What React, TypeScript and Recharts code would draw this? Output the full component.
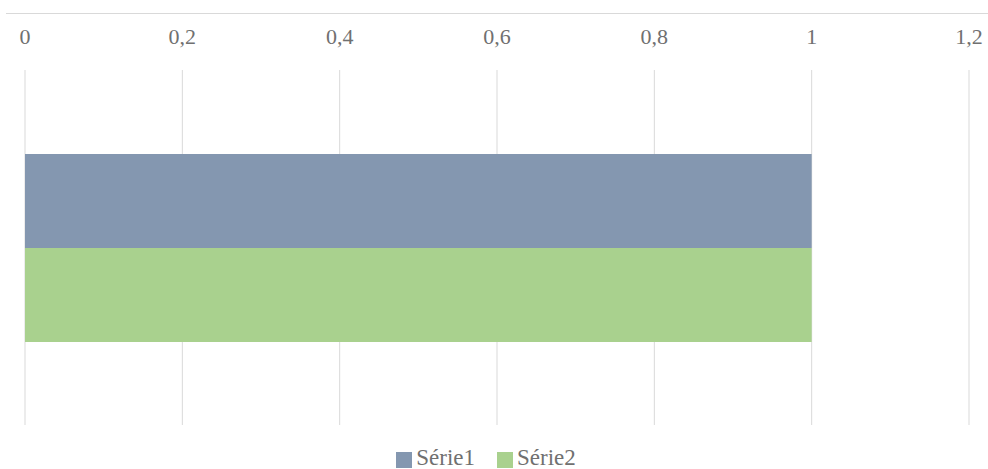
import { BarChart, Bar, XAxis, YAxis, CartesianGrid, Legend } from 'recharts';

const categories = ['1'];
const serie1 = [1];
const serie2 = [1];
const xTicks = [0, 0.2, 0.4, 0.6, 0.8, 1, 1.2];

const data = categories.map((name, i) => ({
  name,
  'Série1': serie1[i],
  'Série2': serie2[i],
}));

const FONT = 'Times New Roman, Liberation Serif, serif';
const TEXT_COLOR = '#707070';

export default function App() {
  return (
    <div
      style={{
        position: 'absolute',
        left: 0,
        top: 0,
        width: 988,
        height: 469,
        background: '#fff',
        fontFamily: FONT,
      }}
    >
      {/* thin rule above the tick labels */}
      <div
        style={{
          position: 'absolute',
          left: 6,
          right: 0,
          top: 13,
          borderTop: '1px solid #d9d9d9',
        }}
      />
      <BarChart
        width={988}
        height={469}
        data={data}
        layout="vertical"
        margin={{ top: 0, right: 19, bottom: 20, left: 25 }}
        barCategoryGap={84}
        barGap={0}
        style={{ fontFamily: FONT }}
      >
        <CartesianGrid horizontal={false} stroke="#d9d9d9" />
        <XAxis
          type="number"
          orientation="top"
          domain={[0, 1.2]}
          ticks={xTicks}
          height={70}
          axisLine={false}
          tickLine={false}
          tickSize={0}
          tickMargin={26}
          interval={0}
          tickFormatter={(v: number) => String(v).replace('.', ',')}
          tick={{ fontFamily: FONT, fontSize: 22, fill: TEXT_COLOR }}
        />
        <YAxis type="category" dataKey="name" hide />
        <Legend
          verticalAlign="bottom"
          iconType="square"
          iconSize={16}
          wrapperStyle={{ fontFamily: FONT, fontSize: 23, bottom: -1, lineHeight: '24px' }}
          formatter={(value: string) => (
            <span style={{ color: TEXT_COLOR, marginRight: 12 }}>{value}</span>
          )}
        />
        <Bar dataKey="Série1" fill="#8497b0" isAnimationActive={false} />
        <Bar dataKey="Série2" fill="#a9d18e" isAnimationActive={false} />
      </BarChart>
    </div>
  );
}
